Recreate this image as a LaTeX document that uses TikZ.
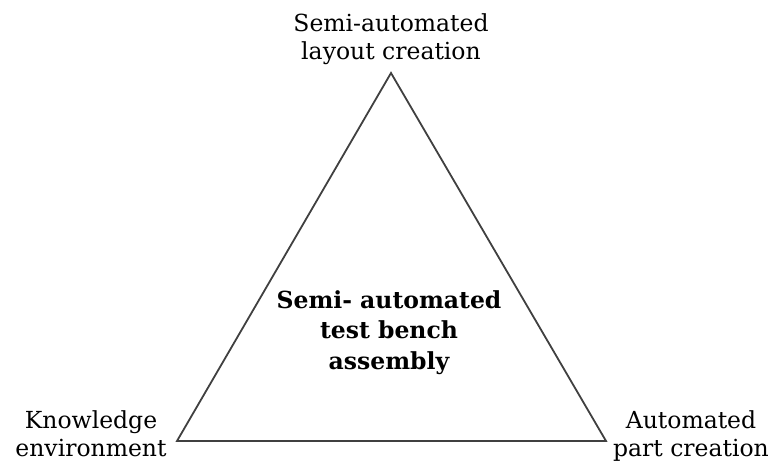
\documentclass[tikz,border=0pt]{standalone}
\usepackage{fontspec}
\setmainfont{DejaVu Serif}
\begin{document}
\begin{tikzpicture}[x=1pt,y=-1pt,
  edge/.style={draw=black!75,line width=1.8pt,line join=miter},
  lbl/.style={align=center,inner sep=0pt,font=\fontsize{23.5}{28}\selectfont,text=black},
  ctr/.style={align=center,inner sep=0pt,font=\fontsize{23.5}{31}\selectfont\bfseries,text=black}]
\useasboundingbox (0,0) rectangle (774,462);
\coordinate (top) at (391,73);
\coordinate (left) at (177,441);
\coordinate (right) at (606,441);
\draw[edge] (top) -- (left) -- (right) -- cycle;
\node[lbl,anchor=base] (ltop) at (391,60) {Semi-automated\\layout creation};
\node[lbl,anchor=base] (lleft) at (91,456) {Knowledge\\environment};
\node[lbl,anchor=base] (lright) at (691,456) {Automated\\part creation};
\node[ctr,anchor=base] (lctr) at (389,370) {Semi- automated\\test bench\\assembly};
\end{tikzpicture}
\end{document}
